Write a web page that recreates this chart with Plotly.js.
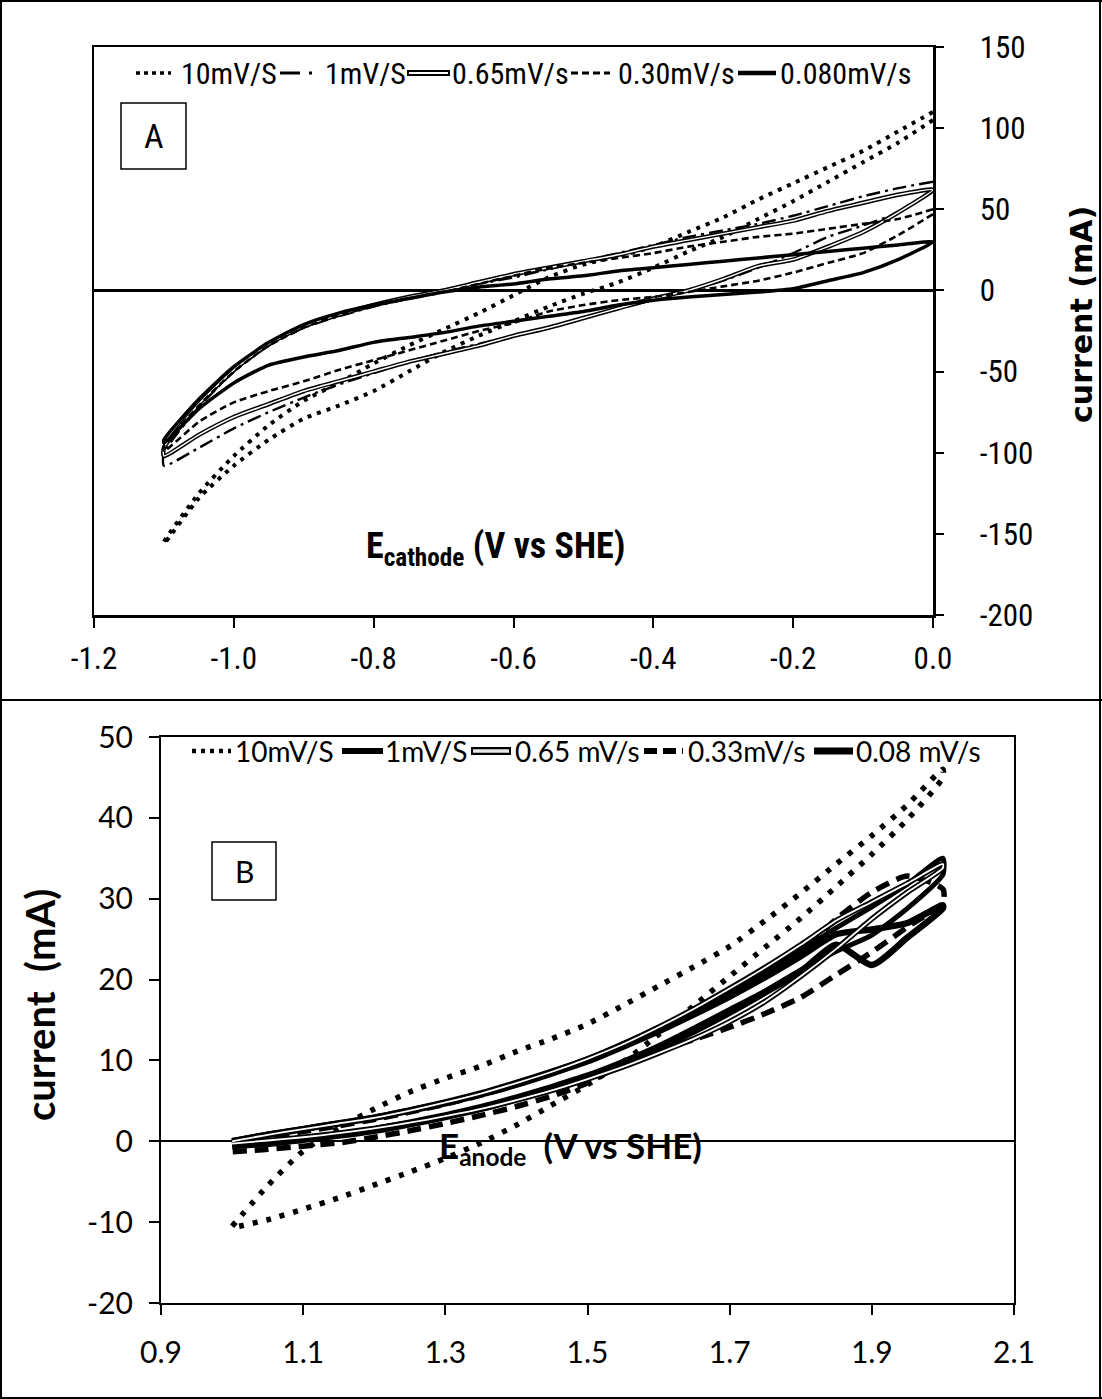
<!DOCTYPE html>
<html>
<head>
<meta charset="utf-8">
<script src="https://cdn.plot.ly/plotly-3.0.1.min.js"></script>
<style>html,body{margin:0;padding:0;background:#fff;}#chart{width:1102px;height:1399px;}</style>
</head>
<body>
<div id="chart"></div>
<script>
// ---------- Panel A : cathode (E vs SHE, V) ----------
const aE = [0,-0.05,-0.1,-0.15,-0.2,-0.25,-0.3,-0.35,-0.4,-0.45,-0.5,-0.55,-0.6,-0.65,-0.7,-0.75,-0.8,-0.85,-0.9,-0.95,-1.0,-1.05,-1.1];
const a10_up  = [110,98,86,76,66,56,45,36,27,21,16,8,-3,-14,-24,-34,-45,-57,-68,-83,-102,-125,-155];
const a10_lo  = [105,91,79,67,55,44,33,24,14,5,-2,-10,-19,-28,-38,-50,-62,-71,-79,-92,-108,-128,-156];
const a1_up   = [67,63,58,52,46,41,37,33,28,23,18,13,8,4,-1,-5,-10,-16,-23,-34,-50,-72,-100];
const a1_lo   = [62,48,40,33,23,14,6,0,-6,-11,-17,-23,-28,-33,-38,-44,-51,-58,-66,-75,-85,-97,-108];
const a065_up = [62,59,54,49,43,39,35,31,27,22,18,14,10,5,0,-4,-9,-15,-22,-33,-49,-70,-97];
const a065_lo = [62,48,36,27,19,15,7,0,-5,-11,-17,-23,-28,-34,-39,-44,-50,-56,-62,-70,-78,-89,-102];
const a030_up = [50,44,41,38,35,33,30,27,23,20,17,14,9,4,-1,-5,-9,-15,-23,-34,-50,-71,-96];
const a030_lo = [47,34,23,17,11,6,2.5,-1,-4,-6,-9,-13,-20,-25,-31,-37,-43,-49,-56,-62,-69,-81,-99];
const a008_up = [30,28,26,24,22,20,18,16,14,12,9,7,4,2,-1,-5,-9,-14,-21,-32,-47,-67,-92];
const a008_lo = [30,19,11,6,1,-1,-2.5,-4,-6,-9,-13,-16,-19,-22,-26,-29,-32,-37,-41,-46,-57,-73,-94];
const aLegend = ['10mV/S','1mV/S','0.65mV/s','0.30mV/s','0.080mV/s'];
const aXticks = [-1.2,-1.0,-0.8,-0.6,-0.4,-0.2,0.0];
const aXlabels = ['-1.2','-1.0','-0.8','-0.6','-0.4','-0.2','0.0'];
const aYticks = [-200,-150,-100,-50,0,50,100,150];
const aYlabels = ['-200','-150','-100','-50','0','50','100','150'];

// ---------- Panel B : anode (E vs SHE, V) ----------
const bE = [1.0,1.05,1.1,1.15,1.2,1.25,1.3,1.35,1.4,1.45,1.5,1.55,1.6,1.65,1.7,1.75,1.8,1.85,1.9,1.95,2.0];
const b10_up  = [-10.5,-5.5,-1.2,1.6,4.0,6.1,7.8,9.3,11.1,12.7,14.5,16.8,19.2,21.6,24.1,27.3,30.7,34.3,37.8,41.6,46.0];
const b10_lo  = [-10.7,-9.7,-8.4,-7.0,-5.4,-3.8,-2.1,-0.2,2.0,4.5,7.0,9.8,13.2,16.8,20.4,24.0,27.6,31.5,35.5,39.8,45.0];
const b1_up   = [0.1,0.9,1.6,2.3,3.0,3.9,4.9,6.0,7.3,8.7,10.2,12.1,14.1,16.2,18.5,21.0,23.6,26.4,29.0,31.8,35.0];
const b1_lo   = [-0.4,-0.1,0.4,0.9,1.6,2.4,3.3,4.3,5.5,6.8,8.2,9.9,11.8,14.0,16.3,18.6,21.2,23.5,25.5,28.8,33.0];
const b065_up = [0.0,0.8,1.5,2.2,2.9,3.8,4.8,5.9,7.2,8.6,10.2,12.0,14.1,16.4,18.9,21.5,24.3,27.3,29.6,31.9,34.3];
const b065_lo = [-0.3,0.1,0.5,1.0,1.6,2.3,3.1,4.0,5.1,6.3,7.7,9.2,10.9,12.7,14.8,17.3,20.4,23.8,27.5,30.8,33.8];
const b033_up = [-0.3,0.5,1.2,1.9,2.7,3.6,4.6,5.7,7.0,8.4,9.9,11.7,13.7,15.9,18.3,20.8,23.4,27.5,30.8,32.8,31.2];
const b033_lo = [-1.3,-1.0,-0.6,-0.2,0.5,1.3,2.2,3.2,4.3,5.6,7.2,9.6,11.2,12.6,14.1,15.8,17.8,20.6,23.4,26.5,29.5];
const b008_up = [0.0,0.8,1.5,2.2,2.9,3.8,4.7,5.8,7.0,8.4,9.9,11.7,13.6,15.7,17.9,20.3,22.9,25.6,26.2,27.0,29.2];
const b008_lo = [-0.6,-0.3,0.2,0.7,1.3,2.1,3.0,4.0,5.2,6.5,7.9,9.6,11.5,13.6,15.9,18.4,21.0,24.3,21.8,25.2,28.8];
const bLegend = ['10mV/S','1mV/S','0.65 mV/s','0.33mV/s','0.08 mV/s'];
const bXticks = [0.9,1.1,1.3,1.5,1.7,1.9,2.1];
const bXlabels = ['0.9','1.1','1.3','1.5','1.7','1.9','2.1'];
const bYticks = [-20,-10,0,10,20,30,40,50];
const bYlabels = ['-20','-10','0','10','20','30','40','50'];

// ---------- helpers ----------
const W = 1102, H = 1399;
const px = v => v / W;
const py = v => 1 - v / H;
function loop(E, up, lo) {               // closed CV loop: one branch out, the other back
  return { x: E.concat(E.slice().reverse()), y: up.concat(lo.slice().reverse()) };
}
const fA = 'Liberation Sans Narrow, Roboto Condensed, Arial Narrow, sans-serif';
const fB = 'Lato, Open Sans, sans-serif';
const fT = 'DejaVu Sans, Lato, sans-serif';

function tr(E, up, lo, xa, ya, line) {
  const L = loop(E, up, lo);
  return { x: L.x, y: L.y, xaxis: xa, yaxis: ya, mode: 'lines', showlegend: false,
           hoverinfo: 'skip', line: Object.assign({ color: 'black', shape: 'spline', smoothing: 0.6 }, line) };
}

const traces = [
  tr(aE, a10_up, a10_lo, 'x', 'y', { width: 4, dash: '4px,6px' }),
  tr(aE, a1_up, a1_lo, 'x', 'y', { width: 2.4, dash: '14px,5px,3px,5px' }),
  tr(aE, a065_up, a065_lo, 'x', 'y', { width: 4.5 }),
  tr(aE, a065_up, a065_lo, 'x', 'y', { width: 1.5, color: 'white' }),
  tr(aE, a030_up, a030_lo, 'x', 'y', { width: 2.6, dash: '7px,4px' }),
  tr(aE, a008_up, a008_lo, 'x', 'y', { width: 3.5 }),

  tr(bE, b10_up, b10_lo, 'x2', 'y2', { width: 5.5, dash: '5px,9px' }),
  tr(bE, b1_up, b1_lo, 'x2', 'y2', { width: 5 }),
  tr(bE, b033_up, b033_lo, 'x2', 'y2', { width: 5.5, dash: '14px,8px' }),
  tr(bE, b008_up, b008_lo, 'x2', 'y2', { width: 6.5 }),
  tr(bE, b065_up, b065_lo, 'x2', 'y2', { width: 5.5 }),
  tr(bE, b065_up, b065_lo, 'x2', 'y2', { width: 1.8, color: 'white' })
];

// ---------- frame, label boxes, legends ----------
const shapes = [];
const ann = [];
function hline(x0, x1, y, w, dash, color) {
  shapes.push({ type: 'line', xref: 'paper', yref: 'paper', x0: px(x0), x1: px(x1), y0: py(y), y1: py(y),
                line: { color: color || 'black', width: w, dash: dash || 'solid' } });
}
function vline(x, y0, y1, w) {
  shapes.push({ type: 'line', xref: 'paper', yref: 'paper', x0: px(x), x1: px(x), y0: py(y0), y1: py(y1),
                line: { color: 'black', width: w } });
}
// outer table frame
hline(0, 1102, 1, 2); hline(0, 1102, 1398, 2); hline(0, 1102, 700, 2);
vline(1, 0, 1399, 2); vline(1100, 0, 1399, 2);
// panel letter boxes
shapes.push({ type: 'rect', xref: 'paper', yref: 'paper', x0: px(121), x1: px(186), y0: py(103), y1: py(169), line: { color: 'black', width: 1.5 } });
shapes.push({ type: 'rect', xref: 'paper', yref: 'paper', x0: px(212), x1: px(276), y0: py(842), y1: py(900), line: { color: 'black', width: 1.5 } });
ann.push({ text: 'A', x: px(154), y: py(136), font: { family: fA, size: 34, color: 'black' } });
ann.push({ text: 'B', x: px(244), y: py(871), font: { family: fB, size: 30, color: 'black' } });

// legend A
const legAy = 73;
hline(136, 171, legAy, 3.5, '4px,4px');
hline(280, 300, legAy, 3);
hline(309, 312, legAy, 3);
hline(407, 450, legAy, 6); hline(409, 448, legAy, 2, 'solid', 'white');
hline(571, 610, legAy, 3, '7px,4px');
hline(738, 776, legAy, 4.5);
const aLegX = [179, 323, 450, 616, 778];
aLegend.forEach((t, i) => ann.push({ text: t, x: px(aLegX[i]), y: py(legAy), xanchor: 'left', font: { family: fA, size: 30, color: 'black' } }));

// legend B
const legBy = 751;
hline(192, 231, legBy, 4.5, '4px,5px');
hline(342, 383, legBy, 6);
hline(471, 511, legBy, 8); hline(473, 509, legBy, 3.5, 'solid', '#e8e8e8');
hline(644, 683, legBy, 6, '13px,6px');
hline(814, 853, legBy, 7);
const bLegX = [233, 383, 513, 686, 854];
bLegend.forEach((t, i) => ann.push({ text: t, x: px(bLegX[i]), y: py(legBy), xanchor: 'left', font: { family: fB, size: 28, color: 'black' } }));

// axis titles (drawn inside/next to plot like the original)
ann.push({ text: '<b>E<sub>cathode</sub> (V vs SHE)</b>', x: px(495), y: py(548), font: { family: fA, size: 36, color: 'black' } });
ann.push({ text: '<b>current (mA)</b>', x: px(1081), y: py(315), textangle: -90, font: { family: fT, size: 30, color: 'black' } });
ann.push({ text: '<b>E<sub>anode</sub>&nbsp; (V vs SHE)</b>', x: px(570), y: py(1147), font: { family: fB, size: 35, color: 'black' } });
ann.push({ text: '<b>current&nbsp; (mA)</b>', x: px(40), y: py(1005), textangle: -90, font: { family: fB, size: 40, color: 'black' } });
ann.forEach(a => { a.xref = 'paper'; a.yref = 'paper'; a.showarrow = false; if (!a.xanchor) a.xanchor = 'center'; a.yanchor = 'middle'; });

const axBase = { showgrid: false, linecolor: 'black', mirror: true, ticks: 'outside', tickcolor: 'black', automargin: false, fixedrange: true, tickmode: 'array' };

const layout = {
  width: W, height: H,
  margin: { l: 0, r: 0, t: 0, b: 0, pad: 0 },
  paper_bgcolor: 'white', plot_bgcolor: 'white',
  showlegend: false,
  xaxis: Object.assign({}, axBase, {
    domain: [px(94), px(933)], anchor: 'y', range: [-1.2, 0], tickvals: aXticks, ticktext: aXlabels,
    linewidth: 2.5, ticklen: 10, tickwidth: 2, zeroline: false,
    tickfont: { family: fA, size: 31, color: 'black' }, ticklabelstandoff: 4
  }),
  yaxis: Object.assign({}, axBase, {
    domain: [py(615), py(47)], anchor: 'x', side: 'right', range: [-200, 150], tickvals: aYticks, ticktext: aYlabels,
    linewidth: 2.5, ticklen: 8, tickwidth: 2, zeroline: true, zerolinecolor: 'black', zerolinewidth: 2.5,
    tickfont: { family: fA, size: 31, color: 'black' }, ticklabelstandoff: 30
  }),
  xaxis2: Object.assign({}, axBase, {
    domain: [px(161), px(1014)], anchor: 'y2', range: [0.9, 2.1], tickvals: bXticks, ticktext: bXlabels,
    linewidth: 2, ticklen: 10, tickwidth: 2, zeroline: false,
    tickfont: { family: fB, size: 30, color: 'black' }, ticklabelstandoff: 12
  }),
  yaxis2: Object.assign({}, axBase, {
    domain: [py(1303), py(737)], anchor: 'x2', range: [-20, 50], tickvals: bYticks, ticktext: bYlabels,
    linewidth: 2, ticklen: 10, tickwidth: 2, zeroline: true, zerolinecolor: 'black', zerolinewidth: 2,
    tickfont: { family: fB, size: 30, color: 'black' }, ticklabelstandoff: 10
  }),
  shapes: shapes,
  annotations: ann
};

Plotly.newPlot('chart', traces, layout, { displayModeBar: false, staticPlot: true });
</script>
</body>
</html>
